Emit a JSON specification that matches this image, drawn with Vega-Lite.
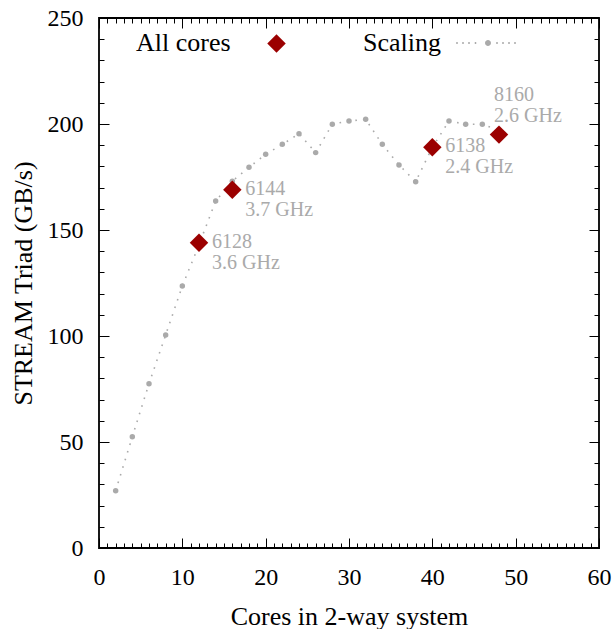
{
  "$schema": "https://vega.github.io/schema/vega-lite/v6.json",
  "width": 500,
  "height": 530,
  "autosize": "none",
  "padding": {"left": 99, "top": 18, "right": 14, "bottom": 81},
  "config": {
    "font": "Liberation Serif",
    "view": {"stroke": "black", "strokeWidth": 1.8},
    "axis": {"grid": false, "domain": false, "ticks": true, "tickColor": "black", "tickWidth": 1, "labelColor": "black", "titleColor": "black", "titleFontWeight": "normal", "labelFont": "Liberation Serif", "titleFont": "Liberation Serif"},
    "legend": {"padding": 0}
  },
  "datasets": {
    "scaling": [
      {"series": "Scaling", "cores": 2, "bw": 27},
      {"series": "Scaling", "cores": 4, "bw": 52.5},
      {"series": "Scaling", "cores": 6, "bw": 77.5},
      {"series": "Scaling", "cores": 8, "bw": 100.5},
      {"series": "Scaling", "cores": 10, "bw": 123.6},
      {"series": "Scaling", "cores": 12, "bw": 143},
      {"series": "Scaling", "cores": 14, "bw": 163.7},
      {"series": "Scaling", "cores": 16, "bw": 173},
      {"series": "Scaling", "cores": 18, "bw": 179.6},
      {"series": "Scaling", "cores": 20, "bw": 185.7},
      {"series": "Scaling", "cores": 22, "bw": 190.4},
      {"series": "Scaling", "cores": 24, "bw": 195.4},
      {"series": "Scaling", "cores": 26, "bw": 186.5},
      {"series": "Scaling", "cores": 28, "bw": 199.9},
      {"series": "Scaling", "cores": 30, "bw": 201.4},
      {"series": "Scaling", "cores": 32, "bw": 202.2},
      {"series": "Scaling", "cores": 34, "bw": 190.4},
      {"series": "Scaling", "cores": 36, "bw": 180.7},
      {"series": "Scaling", "cores": 38, "bw": 172.8},
      {"series": "Scaling", "cores": 40, "bw": 189},
      {"series": "Scaling", "cores": 42, "bw": 201.4},
      {"series": "Scaling", "cores": 44, "bw": 199.9},
      {"series": "Scaling", "cores": 46, "bw": 199.9},
      {"series": "Scaling", "cores": 48, "bw": 197}
    ],
    "allcores": [
      {"series": "All cores", "cores": 12, "bw": 144, "label": "6128\n3.6 GHz", "pos": "right"},
      {"series": "All cores", "cores": 16, "bw": 169, "label": "6144\n3.7 GHz", "pos": "right"},
      {"series": "All cores", "cores": 40, "bw": 189, "label": "6138\n2.4 GHz", "pos": "right"},
      {"series": "All cores", "cores": 48, "bw": 195, "label": "8160\n2.6 GHz", "pos": "above"}
    ]
  },
  "layer": [
    {
      "data": {"name": "scaling"},
      "mark": {"type": "line", "color": "#aaaaaa", "strokeWidth": 1.6, "strokeDash": [1.6, 6.4]},
      "encoding": {
        "x": {"field": "cores", "type": "quantitative", "scale": {"domain": [0, 60], "nice": false, "zero": false},
          "axis": {"orient": "bottom", "values": [0,10,20,30,40,50,60], "tickSize": -10,
            "labelOverlap": false, "labelFlush": false, "labelFontSize": 24, "labelPadding": 27,
            "title": "Cores in 2-way system", "titleFontSize": 26, "titleBaseline": "alphabetic", "titleY": 76}},
        "y": {"field": "bw", "type": "quantitative", "scale": {"domain": [0, 250], "nice": false, "zero": false},
          "axis": {"orient": "left", "values": [0,50,100,150,200,250], "tickSize": -10,
            "labelOverlap": false, "labelFlush": false, "labelFontSize": 24, "labelPadding": 26,
            "title": "STREAM Triad (GB/s)", "titleFontSize": 26, "titleBaseline": "alphabetic", "titleX": -68}}
      }
    },
    {
      "data": {"name": "scaling"},
      "mark": {"type": "point", "shape": "circle", "filled": true, "size": 30, "opacity": 1},
      "encoding": {
        "x": {"field": "cores", "type": "quantitative", "scale": {"domain": [0, 60], "nice": false, "zero": false},
          "axis": {"orient": "top", "values": [0,10,20,30,40,50,60], "tickSize": -10, "labels": false, "title": null}},
        "y": {"field": "bw", "type": "quantitative", "scale": {"domain": [0, 250], "nice": false, "zero": false},
          "axis": {"orient": "right", "values": [0,50,100,150,200,250], "tickSize": -10, "labels": false, "title": null}},
        "color": {"field": "series", "type": "nominal", "scale": {"domain": ["Scaling"], "range": ["#aaaaaa"]},
          "legend": {"orient": "none", "legendX": 264, "legendY": 20, "title": "Scaling", "titleOrient": "left", "titleAnchor": "middle", "titleBaseline": "middle", "titleFontSize": 26, "titleFont": "Liberation Serif", "titleFontWeight": "normal", "titleColor": "black", "titlePadding": 42, "labelExpr": "''", "symbolSize": 100, "symbolStrokeWidth": 0,
            "symbolType": "M-0.6,0A0.6,0.6,0,1,1,0.6,0A0.6,0.6,0,1,1,-0.6,0ZM-6.35,-0.2h0.3v0.4h-0.3ZM-5.15,-0.2h0.3v0.4h-0.3ZM-3.95,-0.2h0.3v0.4h-0.3ZM-2.65,-0.2h0.3v0.4h-0.3ZM1.65,-0.2h0.3v0.4h-0.3ZM2.85,-0.2h0.3v0.4h-0.3ZM4.05,-0.2h0.3v0.4h-0.3ZM5.25,-0.2h0.3v0.4h-0.3Z"}}
      }
    },
    {
      "data": {"name": "allcores"},
      "mark": {"type": "point", "shape": "diamond", "filled": true, "size": 340, "opacity": 1},
      "encoding": {
        "x": {"field": "cores", "type": "quantitative",
          "axis": {"orient": "bottom", "values": [1,2,3,4,5,6,7,8,9,11,12,13,14,15,16,17,18,19,21,22,23,24,25,26,27,28,29,31,32,33,34,35,36,37,38,39,41,42,43,44,45,46,47,48,49,51,52,53,54,55,56,57,58,59], "tickSize": -5, "labels": false, "title": null}},
        "y": {"field": "bw", "type": "quantitative",
          "axis": {"orient": "left", "values": [10,20,30,40,60,70,80,90,110,120,130,140,160,170,180,190,210,220,230,240], "tickSize": -5, "labels": false, "title": null}},
        "color": {"field": "series", "type": "nominal", "scale": {"domain": ["All cores"], "range": ["#9b0000"]},
          "legend": {"orient": "none", "legendX": 37, "legendY": 16, "title": "All cores", "titleOrient": "left", "titleAnchor": "middle", "titleBaseline": "middle", "titleFontSize": 26, "titleFont": "Liberation Serif", "titleFontWeight": "normal", "titleColor": "black", "titlePadding": 36, "labelExpr": "''", "symbolSize": 340, "symbolType": "diamond", "symbolStrokeWidth": 0}}
      }
    },
    {
      "data": {"name": "allcores"},
      "transform": [{"filter": "datum.pos === 'right'"}],
      "mark": {"type": "text", "align": "left", "baseline": "alphabetic", "dx": 13, "dy": 5, "fontSize": 20, "lineBreak": "\n", "lineHeight": 21, "color": "#aaaaaa", "font": "Liberation Serif"},
      "encoding": {
        "x": {"field": "cores", "type": "quantitative",
          "axis": {"orient": "top", "values": [1,2,3,4,5,6,7,8,9,11,12,13,14,15,16,17,18,19,21,22,23,24,25,26,27,28,29,31,32,33,34,35,36,37,38,39,41,42,43,44,45,46,47,48,49,51,52,53,54,55,56,57,58,59], "tickSize": -5, "labels": false, "title": null}},
        "y": {"field": "bw", "type": "quantitative",
          "axis": {"orient": "right", "values": [10,20,30,40,60,70,80,90,110,120,130,140,160,170,180,190,210,220,230,240], "tickSize": -5, "labels": false, "title": null}},
        "text": {"field": "label"}
      }
    },
    {
      "data": {"name": "allcores"},
      "transform": [{"filter": "datum.pos === 'above'"}],
      "mark": {"type": "text", "align": "left", "baseline": "alphabetic", "dx": -5, "dy": -34, "fontSize": 20, "lineBreak": "\n", "lineHeight": 21, "color": "#aaaaaa", "font": "Liberation Serif"},
      "encoding": {
        "x": {"field": "cores", "type": "quantitative", "axis": null},
        "y": {"field": "bw", "type": "quantitative", "axis": null},
        "text": {"field": "label"}
      }
    }
  ],
  "resolve": {"scale": {"color": "independent"}, "axis": {"x": "independent", "y": "independent"}}
}
